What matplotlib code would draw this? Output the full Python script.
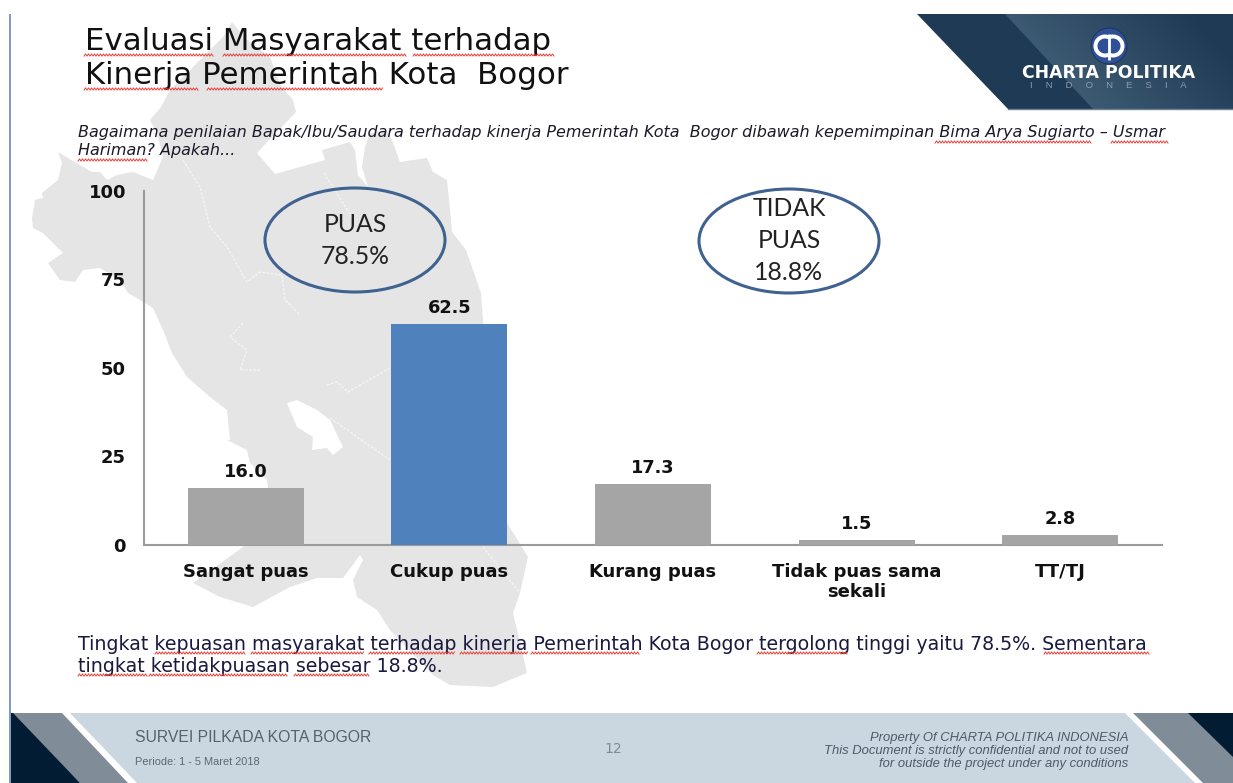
import numpy as np
import matplotlib
matplotlib.use("Agg")
import matplotlib.pyplot as plt
from matplotlib.patches import Polygon, Ellipse, Circle, Wedge
from matplotlib.colors import LinearSegmentedColormap

categories = ["Sangat puas", "Cukup puas", "Kurang puas", "Tidak puas sama\nsekali", "TT/TJ"]
values = [16.0, 62.5, 17.3, 1.5, 2.8]
bar_colors = ["#a5a5a5", "#4f81bd", "#a5a5a5", "#a5a5a5", "#a5a5a5"]
y_ticks = [0, 25, 50, 75, 100]

title_lines = ["Evaluasi Masyarakat terhadap", "Kinerja Pemerintah Kota  Bogor"]
question_lines = ["Bagaimana penilaian Bapak/Ibu/Saudara terhadap kinerja Pemerintah Kota  Bogor dibawah kepemimpinan Bima Arya Sugiarto \u2013 Usmar",
                  "Hariman? Apakah..."]
summary_lines = ["Tingkat kepuasan masyarakat terhadap kinerja Pemerintah Kota Bogor tergolong tinggi yaitu 78.5%. Sementara",
                 "tingkat ketidakpuasan sebesar 18.8%."]

W, H = 1233, 783
fig = plt.figure(figsize=(W / 100, H / 100), dpi=100, facecolor="white")
bg = fig.add_axes([0, 0, 1, 1])
bg.axis("off")

# background map silhouette
map_outline = [(232,22),(245,38),(270,57),(280,85),(293,100),(296,112),(257,153),(275,174),(325,160),(322,150),
    (350,142),(355,150),(358,175),(368,187),(362,167),(365,147),(370,133),(387,130),(393,143),(400,162),(427,158),
    (433,172),(447,180),(450,210),(452,232),(466,250),(481,293),(484,333),(490,420),(507,523),(528,557),(520,593),
    (513,613),(527,673),(493,687),(450,685),(433,675),(390,630),(377,610),(357,597),(353,580),(363,560),(360,555),
    (343,578),(317,578),(290,587),(253,607),(220,597),(193,583),(243,547),(270,500),(267,480),(250,463),(247,450),
    (227,440),(230,440),(227,410),(210,397),(187,377),(172,353),(163,330),(153,308),(145,303),(128,293),(120,280),
    (100,268),(83,270),(75,282),(60,280),(48,263),(63,253),(53,243),(43,233),(33,228),(32,218),(35,200),(43,198),
    (42,193),(58,180),(62,163),(58,152),(66,157),(92,172),(100,172),(107,180),(117,175),(133,172),(153,180),(163,157),
    (157,133),(150,120),(161,107),(170,90),(224,36)]
bg.add_patch(Polygon(map_outline, closed=True, fc="#e5e5e5", ec="none", zorder=1))
lake = [(287,403),(297,400),(317,410),(330,420),(343,447),(333,455),(327,448),(312,450),(313,437),(297,427)]
bg.add_patch(Polygon(lake, closed=True, fc="white", ec="none", zorder=1.1))
borders = [[(183,160),(200,187),(210,227),(227,247),(247,282),(260,272),(282,275),(285,300),(300,315)],
           [(324,173),(341,200),(352,217)],
           [(243,323),(230,337),(247,350),(240,370),(260,370)],
           [(327,385),(337,382),(348,392),(390,368)],
           [(330,418),(390,460)],
           [(483,547),(520,593)]]
for b in borders:
    xs, ys = zip(*b)
    bg.plot(xs, ys, color="#f4f4f4", lw=1, ls=(0, (2, 1)), zorder=1.2)

# left rule
bg.add_patch(Polygon([(8.5,14),(11,14),(11,H),(8.5,H)], fc="#7f9ac6", ec="none", zorder=2))

# header band with a diagonal sheen
hdr = Polygon([(917,14),(W,14),(W,109),(1008,109)], fc="#1f3a54", ec="none", zorder=2)
bg.add_patch(hdr)
band = Polygon([(1005,14),(W,14),(W,109),(1093,109)], fc="none", ec="none")
bg.add_patch(band)
gx, gy = np.meshgrid(np.arange(1000, W), np.arange(14, 109))
edge = 1005 + (gy - 14) * (88 / 95)
sheen = np.clip(1 - (gx - edge) / 190, 0, 1)
im = bg.imshow(sheen, extent=(1000, W, 109, 14),
               cmap=LinearSegmentedColormap.from_list("g", ["#1f3a54", "#3d5a73"]),
               aspect="auto", zorder=2.1, interpolation="bilinear")
im.set_clip_path(band)
bg.plot([1008, W], [109, 109], color="#6d8296", lw=1, zorder=2.2)

# logo
bg.add_patch(Circle((1109, 46), 18, fc="#2f4f96", ec="#1b2f55", lw=0.6, zorder=3))
bg.add_patch(Wedge((1105, 46), 11.5, 65, 295, width=4, fc="white", ec="none", zorder=4))
bg.add_patch(Wedge((1113, 46), 11.5, -115, 115, width=4, fc="white", ec="none", zorder=4))
bg.plot([1109, 1109], [34, 60], color="white", lw=2, zorder=4, solid_capstyle="butt")
bg.text(1108.5, 73, "CHARTA POLITIKA", color="white", ha="center", va="center", fontsize=12.4,
        fontweight="bold", family="DejaVu Sans", zorder=4)
bg.text(1108.5, 85, "I     N     D     O     N     E     S     I     A", color="#8d9cab", ha="center",
        va="center", fontsize=6.8, family="Liberation Sans", zorder=4)

# footer
bg.add_patch(Polygon([(11,713),(W,713),(W,H),(11,H)], fc="#cbd7e0", ec="none", zorder=2))
bg.add_patch(Polygon([(11,713),(70,713),(137,H),(80,H)], fc="white", ec="none", zorder=2.1))
bg.add_patch(Polygon([(11,713),(62,713),(128,H),(80,H)], fc="#808d99", ec="none", zorder=2.2))
bg.add_patch(Polygon([(11,713),(13,713),(80,H),(11,H)], fc="#021c33", ec="none", zorder=2.3))
bg.add_patch(Polygon([(1125,713),(W,713),(W,H),(1195,H)], fc="white", ec="none", zorder=2.1))
bg.add_patch(Polygon([(1133,713),(W,713),(W,H),(1203,H)], fc="#808d99", ec="none", zorder=2.2))
bg.add_patch(Polygon([(1188,713),(W,713),(W,757)], fc="#021c33", ec="none", zorder=2.3))

bg.text(135, 738, "SURVEI PILKADA KOTA BOGOR", color="#55626e", fontsize=11.3, family="Liberation Sans", va="center", zorder=5)
bg.text(135, 762, "Periode: 1 - 5 Maret 2018", color="#5d6873", fontsize=7.9, family="Liberation Sans", va="center", zorder=5)
bg.text(613, 749, "12", color="#7f8a94", fontsize=10, family="DejaVu Sans", ha="center", va="center", zorder=5)
for yy, s in zip((738, 751, 764), ("Property Of CHARTA POLITIKA INDONESIA",
                                   "This Document is strictly confidential and not to used",
                                   "for outside the project under any conditions")):
    bg.text(1128, yy, s, color="#4d5a68", fontsize=9.4, family="Liberation Sans", style="italic", ha="right",
            va="center", zorder=5)

# text block
for yy, s in zip((41, 76), title_lines):
    bg.text(85, yy, s, color="#111111", fontsize=22.2, family="DejaVu Sans", va="center", zorder=5)
for yy, s in zip((133, 150), question_lines):
    bg.text(78, yy, s, color="#1a1a2a", fontsize=11.55, family="DejaVu Sans", style="italic", va="center", zorder=5)
for yy, s in zip((645, 667), summary_lines):
    bg.text(78, yy, s, color="#1a1a40", fontsize=13.65, family="DejaVu Sans", va="center", zorder=5)

# spell-check squiggles
def squiggle(x0, x1, y):
    xs = np.arange(x0, x1 + 0.1, 1.5)
    ys = y + 1.1 * (-1.0) ** np.arange(len(xs))
    bg.plot(xs, ys, color="#e8403a", lw=0.7, zorder=6)

spell_marks = [(84,214,55),(223,406,55),(413,555,55),(84,198,89),(207,383,89),
               (935,1092,142),(1111,1168,142),(78,147,160),
               (155,246,653),(251,364,653),(369,455,653),(460,528,653),(531,639,653),
               (757,848,653),(1044,1150,653),(78,147,675),(149,287,675),(294,369,675)]
for m in spell_marks:
    squiggle(*m)

# ellipses
oval_font = ["Lato", "DejaVu Sans"]
bg.add_patch(Ellipse((355, 240), 180, 104, fc="none", ec="#3f6290", lw=2.2, zorder=5))
bg.add_patch(Ellipse((789, 241), 180, 104, fc="none", ec="#3f6290", lw=2.2, zorder=5))
for yy, s in zip((225, 256), ("PUAS", "78.5%")):
    bg.text(355, yy, s, fontsize=17.8, family=oval_font, color="#222222", ha="center", va="center", zorder=6)
for yy, s in zip((209, 240, 272), ("TIDAK", "PUAS", "18.8%")):
    bg.text(789, yy, s, fontsize=17.8, family=oval_font, color="#222222", ha="center", va="center", zorder=6)

bg.set_xlim(0, W)
bg.set_ylim(H, 0)

# chart
x0, x1, y_base, y_top = 144, 1162, 545, 191
ax = fig.add_axes([x0 / W, 1 - y_base / H, (x1 - x0) / W, (y_base - y_top) / H])
ax.patch.set_visible(False)
pos = np.arange(len(categories))
ax.bar(pos, values, width=0.57, color=bar_colors, zorder=3)
ax.set_xlim(-0.5, len(categories) - 0.5)
ax.set_ylim(0, 100)
ax.set_yticks(y_ticks)
ax.set_xticks(pos)
ax.set_xticklabels(categories, fontsize=13, fontweight="bold", color="#111111", family="DejaVu Sans", linespacing=1.15)
ax.tick_params(axis="both", length=0)
ax.tick_params(axis="x", pad=13)
ax.tick_params(axis="y", pad=13)
for t in ax.get_yticklabels():
    t.set_fontsize(13); t.set_fontweight("bold"); t.set_color("#111111"); t.set_family("DejaVu Sans")
for s in ("top", "right"):
    ax.spines[s].set_visible(False)
for s in ("left", "bottom"):
    ax.spines[s].set_color("#9b9b9b")
    ax.spines[s].set_linewidth(1.5)
for p, v in zip(pos, values):
    ax.annotate(f"{v:.1f}", (p, v), xytext=(0, 5), textcoords="offset points", ha="center", va="bottom",
                fontsize=12.8, fontweight="bold", color="#111111", family="DejaVu Sans")

fig.savefig("out.png", dpi=100)
